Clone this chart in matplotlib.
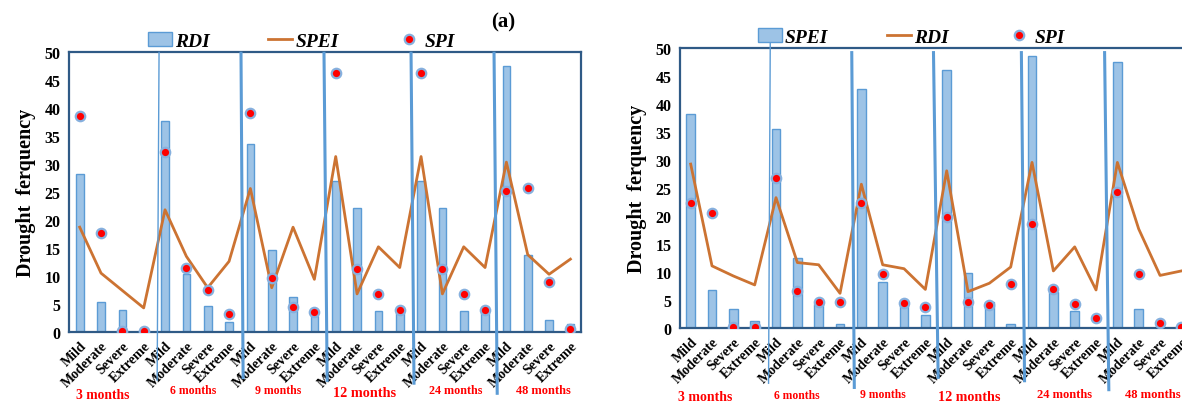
import numpy as np
import matplotlib
matplotlib.use("Agg")
import matplotlib.pyplot as plt

plt.rcParams['font.family'] = ['Liberation Serif', 'DejaVu Serif']
plt.rcParams['font.weight'] = 'bold'

classes = ["Mild", "Moderate", "Severe", "Extreme"]
scales = ["3 months", "6 months", "9 months", "12 months", "24 months", "48 months"]
categories = classes * len(scales)

# left panel (a): RDI bars, SPEI line, SPI dots
rdi_a = [28.2, 5.4, 3.9, 0.0,
         37.7, 10.3, 4.6, 1.7,
         33.5, 14.7, 6.3, 2.8,
         27.0, 22.1, 3.8, 3.4,
         27.0, 22.1, 3.8, 3.4,
         47.5, 13.8, 2.2, 1.5]
spei_a = [18.7, 10.5, 7.4, 4.3,
          21.8, 13.5, 7.9, 12.6,
          25.6, 7.9, 18.7, 9.4,
          31.3, 6.8, 15.2, 11.5,
          31.3, 6.8, 15.2, 11.5,
          30.3, 13.8, 10.3, 13.0]
spi_a = [38.6, 17.6, 0.1, 0.1,
         32.1, 11.5, 7.5, 3.3,
         39.0, 9.6, 4.4, 3.6,
         46.2, 11.2, 6.7, 4.0,
         46.2, 11.2, 6.7, 4.0,
         25.1, 25.7, 9.0, 0.5]

# right panel: SPEI bars, RDI line, SPI dots
spei_b = [38.3, 6.8, 3.4, 1.2,
          35.5, 12.5, 4.3, 0.8,
          42.8, 8.3, 4.4, 2.3,
          46.1, 9.9, 4.6, 0.8,
          48.7, 6.5, 3.1, 0.0,
          47.5, 3.4, 0.0, 0.0]
rdi_b = [29.3, 11.1, 9.3, 7.7,
         23.3, 11.7, 11.3, 6.2,
         25.7, 11.3, 10.6, 6.9,
         28.1, 6.5, 8.0, 10.9,
         29.6, 10.2, 14.5, 6.8,
         29.6, 17.7, 9.4, 10.2]
spi_b = [22.3, 20.6, 0.2, 0.2,
         26.8, 6.7, 4.7, 4.7,
         22.3, 9.6, 4.4, 3.7,
         19.8, 4.7, 4.1, 7.8,
         18.6, 7.0, 4.3, 1.7,
         24.3, 9.6, 0.9, 0.1]

BAR_FACE = '#9DC3E6'
BAR_EDGE = '#5B9BD5'
LINE_C = '#CC7332'
SPINE_C = '#2F5A86'
DIV_C = '#5B9BD5'

fig = plt.figure(figsize=(11.82, 4.02), dpi=100)
axA = fig.add_axes([0.0584, 0.1716, 0.4332, 0.6973])
axB = fig.add_axes([0.5753, 0.1816, 0.4332, 0.6958])


def draw_panel(ax, bars, line, dots, names, leg_x, leg_y,
               dividers, lab_dx, lab_y, lab_sizes, bar_w):
    x = np.arange(len(categories))
    hb = ax.bar(x, bars, width=bar_w, color=BAR_FACE, edgecolor=BAR_EDGE,
                linewidth=1.0, zorder=2, label=names[0])
    hl, = ax.plot(x, line, color=LINE_C, lw=2.0, zorder=3, label=names[1])
    hd, = ax.plot(x, dots, ls='none', marker='o', ms=6.8, mfc='red',
                  mec='#86B0DE', mew=1.6, zorder=4, label=names[2])
    ax.set_xlim(-0.5, len(categories) - 0.5)
    ax.set_ylim(0, 50)
    ax.set_yticks(np.arange(0, 51, 5))
    ax.set_xticks(x)
    ax.set_xticklabels(categories, rotation=45, ha='right',
                       rotation_mode='anchor', fontsize=10, fontweight='bold')
    ax.tick_params(axis='both', length=0)
    ax.tick_params(axis='y', labelsize=11.5, pad=6)
    ax.tick_params(axis='x', pad=5)
    for s in ax.spines.values():
        s.set_color(SPINE_C)
        s.set_linewidth(1.6)
    ax.set_ylabel("Drought  ferquency", fontsize=14.5, fontweight='bold',
                  labelpad=6)
    # group separators
    for i, (x0, y0, x1, y1, w) in enumerate(dividers):
        ax.plot([x0, x1], [y0, y1], color=DIV_C, lw=w, zorder=5,
                clip_on=False, solid_capstyle='butt')
    for k, name in enumerate(scales):
        ax.text(4 * k + 1.5 + lab_dx[k], lab_y[k], name, color='red',
                ha='center', va='center', fontsize=lab_sizes[k],
                fontweight='bold', clip_on=False)
    leg = ax.legend(handles=[hb, hl, hd], ncol=3, frameon=False,
                    loc='center left', bbox_to_anchor=(leg_x, leg_y),
                    borderpad=0, borderaxespad=0, handlelength=1.25,
                    handletextpad=0.15, columnspacing=3.0,
                    prop={'family': 'Liberation Serif', 'weight': 'bold',
                          'style': 'italic', 'size': 14})
    return leg


div_a = [(3.72, 50, 3.63, -8.7, 1.0),
         (7.56, 50, 7.66, -8.4, 2.2),
         (11.45, 50, 11.6, -8.9, 2.2),
         (15.53, 50, 15.67, -9.4, 2.2),
         (19.42, 50, 19.57, -11.2, 2.2)]
div_b = [(3.73, 51.0, 3.65, -10.0, 1.0),
         (7.55, 49.5, 7.67, -10.9, 2.2),
         (11.38, 49.5, 11.6, -9.1, 2.2),
         (15.5, 49.5, 15.65, -9.7, 2.2),
         (19.4, 49.5, 19.6, -11.3, 2.2)]

draw_panel(axA, rdi_a, spei_a, spi_a, ["RDI", "SPEI", "SPI"], 0.154, 1.038,
           div_a, [-0.4, -0.2, -0.2, -0.17, 0.1, 0.25],
           [-11.1, -10.4, -10.4, -10.7, -10.3, -10.3],
           [9.8, 8.5, 8.5, 10.3, 8.7, 8.9], 0.36)
draw_panel(axB, spei_b, rdi_b, spi_b, ["SPEI", "RDI", "SPI"], 0.152, 1.04,
           div_b, [-0.8, -0.52, -0.5, -0.45, 0.0, 0.15],
           [-12.2, -12.0, -11.8, -12.2, -11.8, -11.8],
           [10.0, 8.4, 8.4, 10.2, 9.0, 9.1], 0.4)

fig.text(503 / 1182, 1 - 22 / 402, "(a)", ha='center', va='center',
         fontsize=15, fontweight='bold')

fig.savefig("out.png", dpi=100)
